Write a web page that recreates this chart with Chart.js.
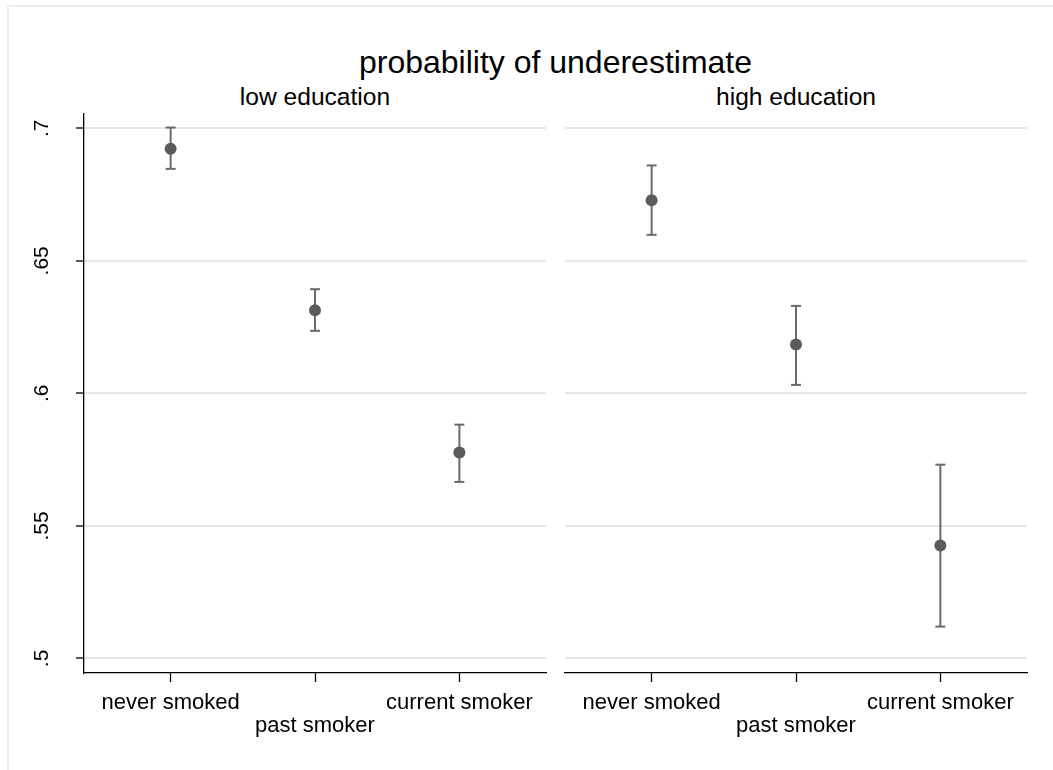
<!DOCTYPE html>
<html>
<head>
<meta charset="utf-8">
<script src="https://cdn.jsdelivr.net/npm/chart.js@4.4.1/dist/chart.umd.min.js"></script>
<style>
  html, body { margin: 0; padding: 0; background: #fff; }
  body { width: 1053px; height: 770px; position: relative; overflow: hidden; font-family: "Liberation Sans", Arial, sans-serif; }
  .frame { position: absolute; left: 7px; top: 5px; width: 1100px; height: 800px; border-top: 2px solid #efefef; border-left: 2px solid #efefef; }
  .txt { position: absolute; line-height: 0; text-align: center; color: #000; white-space: nowrap; }
  .panel { position: absolute; top: 0; height: 770px; }
</style>
</head>
<body>
<div class="frame"></div>
<div class="txt" id="title" style="left:84px;width:943px;top:62px;font-size:32px;">probability of underestimate</div>
<div class="txt" style="left:84px;width:462px;top:96.5px;font-size:24.6px;">low education</div>
<div class="txt" style="left:565px;width:462px;top:96.5px;font-size:24.6px;">high education</div>
<div class="panel" style="left:0;width:556px;"><canvas id="chart-low"></canvas></div>
<div class="panel" style="left:558px;width:479px;"><canvas id="chart-high"></canvas></div>
<script>
// ── Data ─────────────────────────────────────────────
const categories = ['never smoked', 'past smoker', 'current smoker'];
const lowEst  = [0.6923, 0.6314, 0.5777];
const lowLo   = [0.6847, 0.6236, 0.5666];
const lowHi   = [0.7003, 0.6393, 0.5882];
const highEst = [0.6729, 0.6184, 0.5426];
const highLo  = [0.6598, 0.6032, 0.5120];
const highHi  = [0.6860, 0.6330, 0.5731];
const yTicks  = [0.5, 0.55, 0.6, 0.65, 0.7];
const yLabels = ['.5', '.55', '.6', '.65', '.7'];

const FONT = '"Liberation Sans", Arial, sans-serif';
const DOT = '#5b5b5b';
const BAR = '#6a6a6a';

// ── Rotated y tick labels (Stata style) ──────────────
const yLabelPlugin = {
  id: 'yLabels',
  afterDraw(chart) {
    if (!chart.options.plugins.yLabels.show) return;
    const ys = chart.scales.y, ctx = chart.ctx;
    ctx.save();
    ctx.fillStyle = '#000';
    ctx.font = '21px ' + FONT;
    ctx.textAlign = 'center';
    ctx.textBaseline = 'alphabetic';
    yTicks.forEach((v, i) => {
      ctx.save();
      ctx.translate(48, ys.getPixelForValue(v));
      ctx.rotate(-Math.PI / 2);
      ctx.fillText(yLabels[i], 0, 0);
      ctx.restore();
    });
    ctx.restore();
  }
};

function makeDatasets(est, lo, hi) {
  const sets = categories.map((c, i) => ({
    type: 'line',
    data: [{ x: i + 1, y: lo[i] }, { x: i + 1, y: hi[i] }],
    borderColor: BAR, borderWidth: 2,
    pointStyle: 'line', pointRadius: 5, pointBorderWidth: 2,
    pointBorderColor: BAR, pointBackgroundColor: BAR,
    order: 2
  }));
  sets.push({
    type: 'scatter',
    data: est.map((v, i) => ({ x: i + 1, y: v })),
    pointRadius: 6, pointBackgroundColor: DOT, pointBorderColor: DOT, pointBorderWidth: 0,
    order: 1
  });
  return sets;
}

function makeChart(id, est, lo, hi, first) {
  return new Chart(document.getElementById(id), {
    data: { datasets: makeDatasets(est, lo, hi) },
    plugins: [yLabelPlugin],
    options: {
      responsive: true,
      maintainAspectRatio: false,
      animation: false,
      events: [],
      layout: { padding: { top: 114, right: 10, bottom: 0, left: 0 } },
      plugins: { legend: { display: false }, tooltip: { enabled: false }, yLabels: { show: first } },
      scales: {
        x: {
          type: 'linear', min: 0.4, max: 3.6,
          afterBuildTicks: s => { s.ticks = categories.map((_, i) => ({ value: i + 1 })); },
          afterFit: s => { s.height = 97; },
          grid: { drawOnChartArea: false, drawTicks: true, tickLength: 9, tickColor: '#000', tickWidth: 1.3 },
          border: { display: true, color: '#000', width: 1.3 },
          ticks: {
            padding: 9, maxRotation: 0, autoSkip: false, color: '#000',
            font: { family: FONT, size: 22, lineHeight: 1.06 },
            callback: (v, i) => i === 1 ? ['', categories[i]] : categories[i]
          }
        },
        y: {
          type: 'linear', min: 0.4945, max: 0.7054,
          afterBuildTicks: s => { s.ticks = yTicks.map(v => ({ value: v })); },
          afterFit: s => { s.width = first ? 84 : 0; },
          grid: { color: '#e6e6e6', lineWidth: 2, drawTicks: first, tickLength: 8, tickColor: '#000', tickWidth: 1.3 },
          border: { display: first, color: '#000', width: 1.3 },
          ticks: { display: false }
        }
      }
    }
  });
}

makeChart('chart-low', lowEst, lowLo, lowHi, true);
makeChart('chart-high', highEst, highLo, highHi, false);
</script>
</body>
</html>
